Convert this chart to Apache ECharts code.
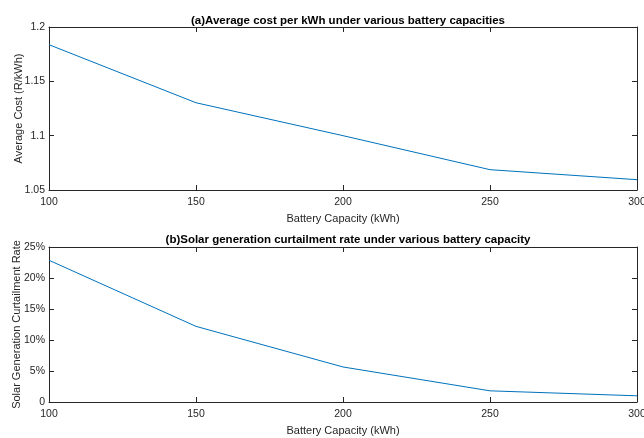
<!DOCTYPE html>
<html><head><meta charset="utf-8">
<script src="https://cdn.jsdelivr.net/npm/echarts@6/dist/echarts.min.js"></script>
<style>html,body{margin:0;padding:0;background:#fff}#c{width:644px;height:438px}</style>
</head><body><div id="c"></div>
<script>
const capacities = [100, 150, 200, 250, 300];
const avgCost = [1.1837, 1.1303, 1.1000, 1.0687, 1.0595];
const curtailPct = [22.86, 12.2, 5.65, 1.8, 1.0];
const titleA = '(a)Average cost per kWh under various battery capacities';
const titleB = '(b)Solar generation curtailment rate under various battery capacity';
const xName = 'Battery Capacity (kWh)';
const yNameA = 'Average Cost (R/kWh)';
const yNameB = 'Solar Generation Curtailment Rate';

const FONT = '"Liberation Sans", Arial, sans-serif';
const TXT = '#262626';
const AX = '#262626';
const LINE = '#0072BD';

const chart = echarts.init(document.getElementById('c'), null, {renderer: 'canvas'});
function xAxes(gi, showLabel, pos) {
  return {
    type: 'value', gridIndex: gi, position: pos, min: 100, max: 300, interval: 50,
    name: pos === 'bottom' ? xName : '', nameLocation: 'middle', nameGap: 23, nameMoveOverlap: false,
    nameTextStyle: {fontFamily: FONT, fontSize: 11, color: TXT},
    axisLine: {show: true, onZero: false, lineStyle: {color: AX, width: 1}},
    axisTick: {show: true, inside: true, length: 5, lineStyle: {color: AX}},
    axisLabel: {show: showLabel, fontFamily: FONT, fontSize: 10.5, color: TXT, margin: 7},
    splitLine: {show: false}
  };
}
function yAxis(gi, pos, min, max, interval, name, gap, fmt) {
  return {
    type: 'value', gridIndex: gi, position: pos, min, max, interval,
    name: pos === 'left' ? name : '', nameLocation: 'middle', nameGap: gap, nameMoveOverlap: false,
    nameTextStyle: {fontFamily: FONT, fontSize: 11, color: TXT},
    axisLine: {show: true, onZero: false, lineStyle: {color: AX, width: 1}},
    axisTick: {show: true, inside: true, length: 5, lineStyle: {color: AX}},
    axisLabel: {show: pos === 'left', fontFamily: FONT, fontSize: 10.5, color: TXT, margin: 4, formatter: fmt},
    splitLine: {show: false}
  };
}
chart.setOption({
  animation: false,
  backgroundColor: '#fff',
  title: [
    {text: titleA, left: 343, textAlign: 'center', top: 10, textStyle: {fontFamily: FONT, fontSize: 11.5, fontWeight: 'bold', color: '#000'}},
    {text: titleB, left: 343, textAlign: 'center', top: 229, textStyle: {fontFamily: FONT, fontSize: 11.5, fontWeight: 'bold', color: '#000'}}
  ],
  grid: [
    {left: 49, right: 7, top: 27, height: 163, outerBoundsMode: 'none', containLabel: false},
    {left: 49, right: 7, top: 247, height: 155, outerBoundsMode: 'none', containLabel: false}
  ],
  xAxis: [xAxes(0, true, 'bottom'), xAxes(0, false, 'top'), xAxes(1, true, 'bottom'), xAxes(1, false, 'top')],
  yAxis: [
    yAxis(0, 'left', 1.05, 1.2, 0.05, yNameA, 25, v => String(+v.toFixed(2))),
    yAxis(0, 'right', 1.05, 1.2, 0.05, '', 0, null),
    yAxis(1, 'left', 0, 25, 5, yNameB, 27, v => v === 0 ? '0' : Math.round(v) + '%'),
    yAxis(1, 'right', 0, 25, 5, '', 0, null)
  ],
  series: [
    {type: 'line', xAxisIndex: 0, yAxisIndex: 0, data: capacities.map((c, i) => [c, avgCost[i]]), showSymbol: false, lineStyle: {color: LINE, width: 1}, itemStyle: {color: LINE}},
    {type: 'line', xAxisIndex: 2, yAxisIndex: 2, data: capacities.map((c, i) => [c, curtailPct[i]]), showSymbol: false, lineStyle: {color: LINE, width: 1}, itemStyle: {color: LINE}}
  ]
});
</script></body></html>
